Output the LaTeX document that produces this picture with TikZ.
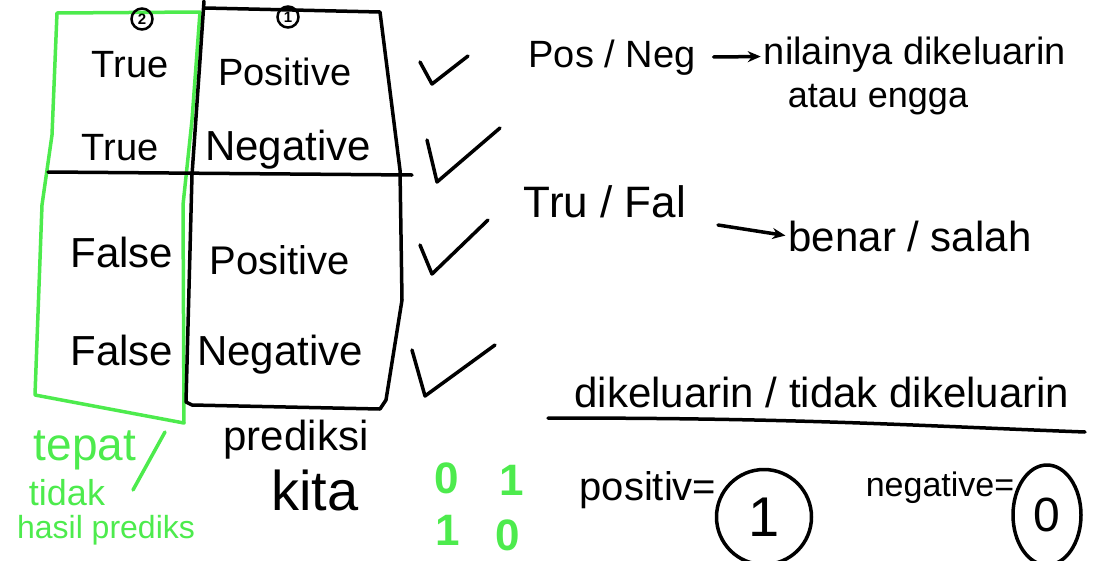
\documentclass[tikz,border=0pt]{standalone}
\usepackage{fontspec}
\setmainfont{Liberation Sans}
\usetikzlibrary{arrows.meta,shapes.geometric}
\definecolor{hgreen}{RGB}{77,235,77}
\tikzset{
  ink/.style={line width=3.5pt,line cap=round,line join=round},
  gink/.style={line width=3.5pt,line cap=round,line join=round,draw=hgreen},
  big/.style={inner sep=0pt,font=\fontsize{38}{42}\selectfont},
  mid/.style={inner sep=0pt,font=\fontsize{36}{40}\selectfont},
  gtxt/.style={inner sep=0pt,text=hgreen,font=\fontsize{32}{36}\selectfont},
  gdig/.style={inner sep=0pt,text=hgreen,font=\bfseries\fontsize{44}{48}\selectfont},
  cnum/.style={draw,circle,line width=2.5pt,inner sep=0pt,minimum size=21pt,font=\bfseries\fontsize{15}{16}\selectfont},
  arr/.style={ink,-{Stealth[length=13pt,width=11pt]}},
}
\begin{document}
\begin{tikzpicture}[x=1pt,y=-1pt]
\useasboundingbox (0,0) rectangle (1095,560);
% green box
\draw[gink] (57,13) -- (200,12) -- (192,120) -- (183,205) -- (184,423) -- (35,395) -- (42,205) -- (52,135) -- cycle;
% black box
\draw[ink] (204,1) -- (200,60) -- (192,175) -- (186,402) -- (192,405) -- (380,409) -- (386,400) -- (402,300) -- (400,170) -- (380,12) -- (205,8);
\draw[ink] (48,172) -- (412,175);
% circled numbers
\node[cnum] (c2) at (142,19) {2};
\node[cnum] (c1) at (288,17) {1};
% table text
\node[big] (t1) at (130,65) {True};
\node[big] (t2) at (120,148) {True};
\node[big] (p1) at (285,72) {Positive};
\node[big,font=\fontsize{42}{46}\selectfont] (n1) at (288,150) {Negative};
\node[big,font=\fontsize{42}{46}\selectfont] (f1) at (122,252) {False};
\node[big,font=\fontsize{40}{44}\selectfont] (p2) at (280,260) {Positive};
\node[big,font=\fontsize{42}{46}\selectfont] (f2) at (122,350) {False};
\node[big,font=\fontsize{42}{46}\selectfont] (n2) at (280,355) {Negative};
% checkmarks
\draw[ink] (420,62) -- (432,84) -- (468,56);
\draw[ink] (427,140) -- (437,182) -- (500,128);
\draw[ink] (420,245) -- (432,274) -- (488,220);
\draw[ink] (412,350) -- (425,396) -- (495,345);
% right notes
\node[mid,font=\fontsize{38}{42}\selectfont] (posneg) at (612,58) {Pos / Neg};
\node[mid,font=\fontsize{38}{42}\selectfont] (nilai) at (915,55) {nilainya dikeluarin};
\node[mid] (atau) at (878,100) {atau engga};
\draw[arr,shorten <=18pt,shorten >=3pt] (posneg) -- (nilai);
\node[mid,font=\fontsize{44}{48}\selectfont] (trufal) at (605,202) {Tru / Fal};
\node[mid,font=\fontsize{42}{46}\selectfont] (benar) at (910,236) {benar / salah};
\coordinate (a0) at (718,225);
\draw[arr,shorten >=3pt] (a0) -- (benar.west);
\node[mid,font=\fontsize{42}{46}\selectfont] (dik) at (822,392) {dikeluarin / tidak dikeluarin};
\draw[ink] (548,418) .. controls (800,418) and (900,425) .. (1085,432);
\node[mid,font=\fontsize{40}{44}\selectfont] (posv) at (648,490) {positiv=};
\node[draw,ellipse,line width=3.5pt,minimum width=95pt,minimum height=95pt,inner sep=0pt,font=\fontsize{56}{60}\selectfont] (one) at (764,517) {1};
\node[mid,font=\fontsize{34}{38}\selectfont] (negv) at (940,488) {negative=};
\node[draw,ellipse,line width=3.5pt,minimum width=68pt,minimum height=100pt,inner sep=0pt,font=\fontsize{48}{52}\selectfont] (zero) at (1047,515) {0};
% prediksi kita
\node[mid,font=\fontsize{42}{46}\selectfont] (pred) at (296,440) {prediksi};
\node[mid,font=\fontsize{56}{60}\selectfont] (kita) at (315,490) {kita};
% green notes
\node[gtxt,font=\fontsize{46}{50}\selectfont] (tepat) at (85,450) {tepat};
\draw[gink] (165,432) -- (133,490);
\node[gtxt,font=\fontsize{36}{40}\selectfont] (tidak) at (67,493) {tidak};
\node[gtxt] (hasil) at (106,530) {hasil prediks};
\node[gdig] (g1) at (447,478) {0};
\node[gdig] (g2) at (512,480) {1};
\node[gdig] (g3) at (448,530) {1};
\node[gdig] (g4) at (508,535) {0};
\end{tikzpicture}
\end{document}
